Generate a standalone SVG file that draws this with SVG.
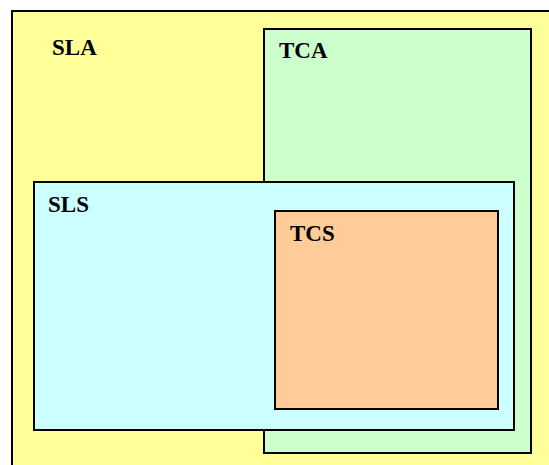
<svg xmlns="http://www.w3.org/2000/svg" width="549" height="465" viewBox="0 0 549 465">
<style>
rect.box{stroke:#000;stroke-width:2}
text{font-family:"Liberation Serif","Times New Roman",serif;font-weight:bold;font-size:23px;fill:#000}
</style>
<rect width="549" height="465" fill="#fff"/>
<g id="SLA"><rect class="box" x="12" y="11" width="545" height="460" fill="#FFFF99"/><text x="52" y="55">SLA</text></g>
<g id="TCA"><rect class="box" x="264" y="29" width="267" height="424" fill="#CCFFCC"/><text x="279" y="58">TCA</text></g>
<g id="SLS"><rect class="box" x="34" y="182" width="480" height="248" fill="#CCFFFF"/><text x="48" y="212">SLS</text></g>
<g id="TCS"><rect class="box" x="275" y="211" width="223" height="198" fill="#FFCC99"/><text x="290" y="241">TCS</text></g>
<g id="connectors"></g>
</svg>
